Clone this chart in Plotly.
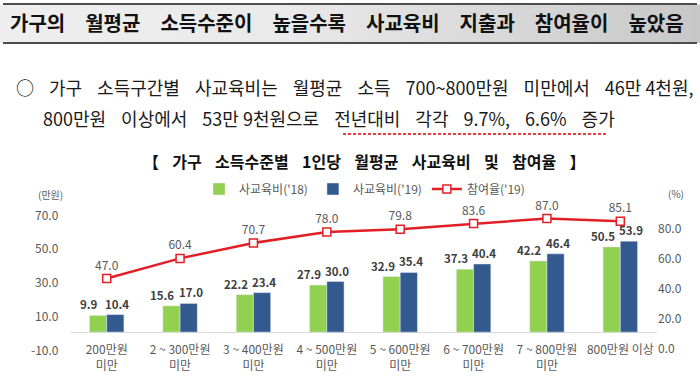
import plotly.graph_objects as go

categories = ["200만원<br>미만", "2 ~ 300만원<br>미만", "3 ~ 400만원<br>미만", "4 ~ 500만원<br>미만",
              "5 ~ 600만원<br>미만", "6 ~ 700만원<br>미만", "7 ~ 800만원<br>미만", "800만원 이상"]
spend_2018 = [9.9, 15.6, 22.2, 27.9, 32.9, 37.3, 42.2, 50.5]
spend_2019 = [10.4, 17.0, 23.4, 30.0, 35.4, 40.4, 46.4, 53.9]
participation_2019 = [47.0, 60.4, 70.7, 78.0, 79.8, 83.6, 87.0, 85.1]
left_ticks = [-10, 10, 30, 50, 70]
right_ticks = [0, 20, 40, 60, 80]

W, H = 700, 380
L, R, T, B = 70, 657, 214, 349

def fx(x):
    return x / W

def fy(y):
    return 1 - y / H

KR = "Noto Sans CJK KR"
GRAY = "#595959"
LBL = "#404040"
SP = "\u2002\u2004"     # wide word gap used in the source document
TSP = "\u3000"

BARGAP = 0.53
bar_half = (1 - BARGAP) / 4 * (R - L) / len(categories)   # px from group centre to bar centre

fig = go.Figure()
fig.add_trace(go.Bar(
    x=categories, y=spend_2018, name="사교육비('18)",
    marker=dict(color="#92D050"),
))
fig.add_trace(go.Bar(
    x=categories, y=spend_2019, name="사교육비('19)",
    marker=dict(color="#335A8E"),
))
fig.add_trace(go.Scatter(
    x=categories, y=participation_2019, name="참여율('19)", yaxis="y2",
    mode="lines+markers+text",
    line=dict(color="#E21F26", width=2.5),
    marker=dict(symbol="square", size=8, color="white", line=dict(color="#E21F26", width=1.5)),
    texttemplate="%{y:.1f}", textposition="top center",
    textfont=dict(size=12, color=GRAY, family=KR),
    cliponaxis=False,
))

shapes = []
n = 70
c0, c1, c2 = 238, 234, 200
for i in range(n):
    t = (i + 0.5) / n
    if t < 0.4:
        v = c0 + (c1 - c0) * t / 0.4
    else:
        v = c1 + (c2 - c1) * (t - 0.4) / 0.6
    v = int(round(v))
    x0 = i * W / n
    x1 = (i + 1) * W / n + 0.5
    shapes.append(dict(type="rect", xref="paper", yref="paper",
                       x0=fx(x0), x1=fx(x1), y0=fy(43), y1=fy(4.5),
                       fillcolor=f"rgb({v},{v},{v})", line=dict(width=0), layer="below"))
shapes.append(dict(type="line", xref="paper", yref="paper", x0=fx(3), x1=fx(697), y0=fy(4), y1=fy(4),
                   line=dict(color="#4d4d4d", width=1.8)))
shapes.append(dict(type="line", xref="paper", yref="paper", x0=fx(3), x1=fx(697), y0=fy(43), y1=fy(43),
                   line=dict(color="#4d4d4d", width=1.8)))
shapes.append(dict(type="line", xref="paper", yref="paper", x0=fx(343), x1=fx(606), y0=fy(134), y1=fy(134),
                   line=dict(color="#E00000", width=1.5, dash="3px,2px")))

def ann(text, x, y, xanchor, size, color, weight="normal"):
    return dict(text=text, x=fx(x), y=fy(y), xref="paper", yref="paper",
                xanchor=xanchor, yanchor="middle", showarrow=False,
                font=dict(size=size, color=color, family=KR, weight=weight))

title = TSP.join(["가구의", "월평균", "소득수준이", "높을수록", "사교육비", "지출과", "참여율이", "높았음"])
line1 = SP.join(["○", "가구", "소득구간별", "사교육비는", "월평균", "소득", "700~800만원", "미만에서", "46만 4천원,"])
line2 = SP.join(["800만원", "이상에서", "53만 9천원으로", "전년대비", "각각", "9.7%,", "6.6%", "증가"])
ctitle = "\u2002\u2004".join(["【", "가구", "소득수준별", "1인당", "월평균", "사교육비", "및", "참여율", "】"])

annotations = [
    ann(title, 8, 23, "left", 20, "#111111", "bold"),
    ann(line1, 14, 87, "left", 18, "#1a1a1a"),
    ann(line2, 41, 118, "left", 18, "#1a1a1a"),
    ann(ctitle, 364, 161, "center", 16, "#111111", "bold"),
    ann("(만원)", 50, 194, "center", 10, GRAY),
    ann("(%)", 676, 193, "center", 10, GRAY),
]

# left-axis tick labels, right-aligned next to the plot, placed through the y axis
for v in left_ticks:
    annotations.append(dict(text=f"{v:.1f}", x=fx(61), y=v, xref="paper", yref="y",
                            xanchor="right", yanchor="middle", showarrow=False,
                            font=dict(size=12, color=GRAY, family=KR)))

for cat, v in zip(categories, spend_2018):
    annotations.append(dict(text=f"{v:.1f}", x=cat, y=v, xref="x", yref="y",
                            xanchor="center", yanchor="bottom", xshift=-bar_half - 9, yshift=1,
                            showarrow=False, font=dict(size=11.5, color=LBL, family=KR, weight="bold")))
for cat, v in zip(categories, spend_2019):
    annotations.append(dict(text=f"{v:.1f}", x=cat, y=v, xref="x", yref="y",
                            xanchor="center", yanchor="bottom", xshift=bar_half + 2, yshift=1,
                            showarrow=False, font=dict(size=11.5, color=LBL, family=KR, weight="bold")))

ydom = [fy(B), fy(T)]
zero_pos = ydom[0] + (ydom[1] - ydom[0]) * 10 / 80

fig.update_layout(
    width=W, height=H,
    margin=dict(l=0, r=0, t=0, b=0),
    paper_bgcolor="white", plot_bgcolor="white",
    font=dict(family=KR, color=GRAY),
    barmode="group", bargap=BARGAP, bargroupgap=0,
    showlegend=True,
    legend=dict(orientation="h", x=fx(199), y=fy(189), xanchor="left", yanchor="middle",
                font=dict(size=12, color=GRAY, family=KR), bgcolor="rgba(0,0,0,0)",
                itemwidth=30, tracegroupgap=0),
    xaxis=dict(domain=[fx(L), fx(R)], anchor="free", position=zero_pos, showline=False, ticks="",
               showgrid=False, tickangle=0, automargin=False, ticklabelstandoff=9,
               tickfont=dict(size=12, color=GRAY, family=KR), zeroline=False),
    yaxis=dict(domain=ydom, anchor="free", position=fx(L), side="left",
               range=[-10, 70], tickvals=left_ticks, showticklabels=False,
               showgrid=False,
               zeroline=True, zerolinecolor="#d9d9d9", zerolinewidth=1, showline=False, automargin=False,
               ticks=""),
    yaxis2=dict(range=[0, 90], tickvals=right_ticks, ticktext=[f"{v:.1f}" for v in right_ticks],
                overlaying="y", side="right", anchor="free", position=fx(R),
                showgrid=False, zeroline=False, showline=False, automargin=False,
                tickfont=dict(size=12, color=GRAY, family=KR), ticks=""),
    shapes=shapes, annotations=annotations,
)

fig.write_html("out.html", config={"displayModeBar": False},
               post_script="document.body.style.margin='0';document.body.style.overflow='hidden';")
